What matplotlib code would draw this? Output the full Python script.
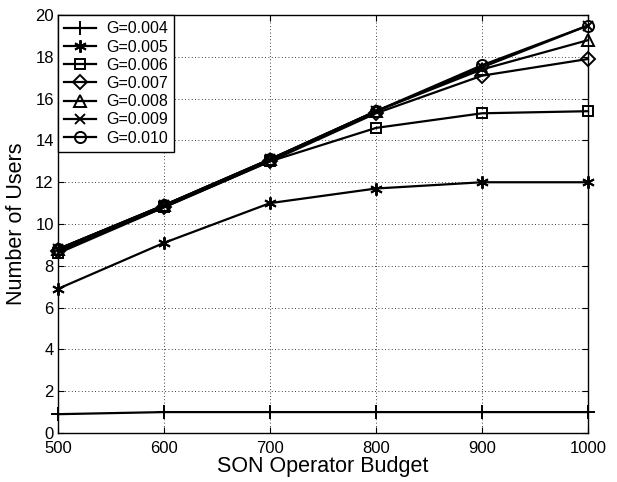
import matplotlib
matplotlib.use("Agg")
import matplotlib.pyplot as plt

budget = [500, 600, 700, 800, 900, 1000]
labels = ["G=0.004", "G=0.005", "G=0.006", "G=0.007", "G=0.008", "G=0.009", "G=0.010"]
g004 = [0.9, 1.0, 1.0, 1.0, 1.0, 1.0]
g005 = [6.9, 9.1, 11.0, 11.7, 12.0, 12.0]
g006 = [8.6, 10.8, 13.0, 14.6, 15.3, 15.4]
g007 = [8.7, 10.8, 13.0, 15.3, 17.1, 17.9]
g008 = [8.8, 10.9, 13.1, 15.4, 17.4, 18.8]
g009 = [8.8, 10.9, 13.1, 15.4, 17.5, 19.5]
g010 = [8.8, 10.9, 13.1, 15.4, 17.6, 19.5]
series = [g004, g005, g006, g007, g008, g009, g010]
markers = ["+", (6, 2, 0), "s", "D", "^", "x", "o"]
msizes = [10, 9, 7, 7, 9, 7, 8]

plt.rcParams["font.family"] = ["Liberation Sans", "DejaVu Sans"]
fig = plt.figure(figsize=(6.17, 4.82), dpi=100)
ax = fig.add_axes([0.094, 0.1017, 0.859, 0.867])

for ys, lab, m, ms in zip(series, labels, markers, msizes):
    ax.plot(budget, ys, color="black", lw=1.6, marker=m, markersize=ms,
            markerfacecolor="none", markeredgecolor="black", markeredgewidth=1.4,
            label=lab, clip_on=False)

ax.set_xlim(500, 1000)
ax.set_ylim(0, 20)
ax.set_xticks(budget)
ax.set_yticks(range(0, 21, 2))
ax.tick_params(direction="in", top=True, right=True, labelsize=12, length=4)
ax.tick_params(axis="x", pad=6)
ax.tick_params(axis="y", pad=3)
ax.grid(True, linestyle=(0, (1, 3)), color="black", linewidth=0.6)
for s in ax.spines.values():
    s.set_linewidth(1.0)
ax.set_xlabel("SON Operator Budget", fontsize=15.5, labelpad=0)
ax.set_ylabel("Number of Users", fontsize=15.5, labelpad=6)
leg = ax.legend(loc="upper left", fontsize=11.5, fancybox=False, edgecolor="black",
                framealpha=1, borderpad=0.4, labelspacing=0.2, handlelength=2.0,
                handletextpad=0.6, borderaxespad=0.0)
leg.get_frame().set_linewidth(1.0)
fig.savefig("out.png", dpi=100)
